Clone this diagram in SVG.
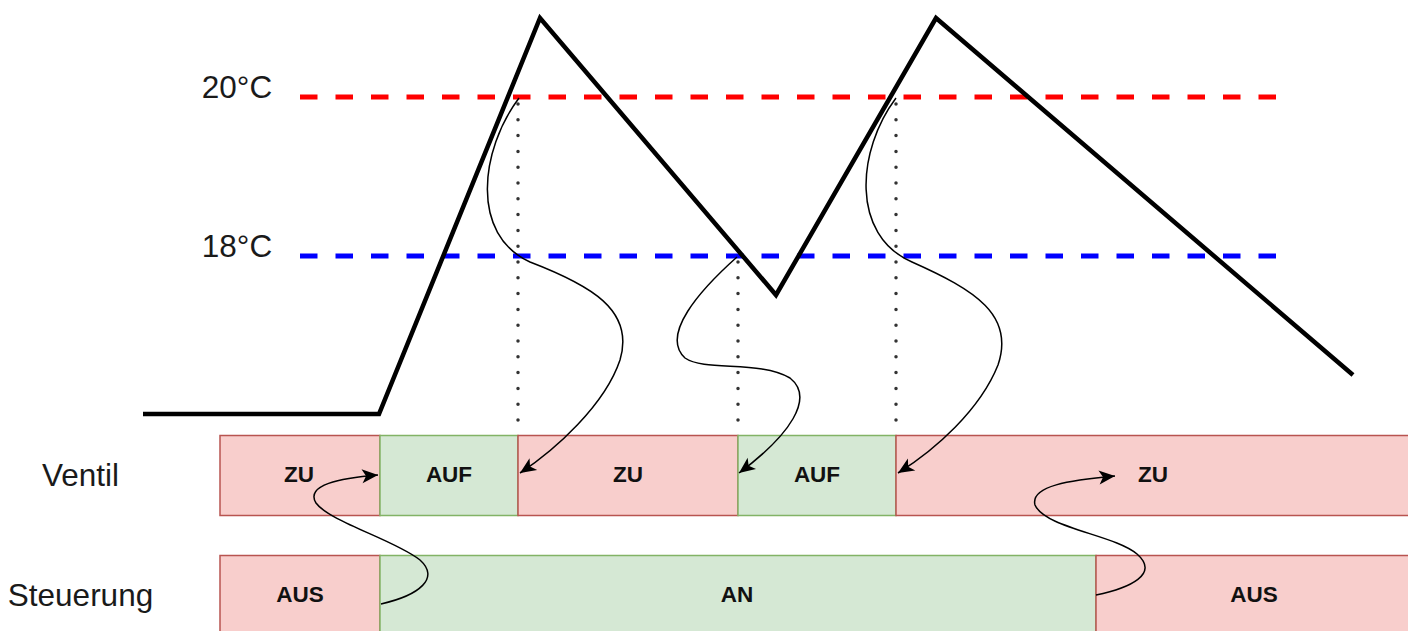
<svg xmlns="http://www.w3.org/2000/svg" width="1408" height="631" viewBox="0 0 1408 631">
<style>
.lbl{font-family:"Liberation Sans",Arial,sans-serif;font-size:31.5px;fill:#1a1a1a;text-anchor:middle}
.bl{font-family:"Liberation Sans",Arial,sans-serif;font-size:22.5px;font-weight:bold;fill:#111;text-anchor:middle}
.red{fill:#f8cecc;stroke:#b85450;stroke-width:1.5}
.grn{fill:#d5e8d4;stroke:#82b366;stroke-width:1.5}
.dot{stroke:#333;stroke-width:3.5;stroke-linecap:round;stroke-dasharray:0 15.8;fill:none}
.cur{fill:none;stroke:#000;stroke-width:1.5;marker-end:url(#ah)}
</style>
<defs>
<marker id="ah" markerUnits="userSpaceOnUse" markerWidth="20" markerHeight="20" viewBox="0 0 20 20" refX="18" refY="10" orient="auto">
<path d="M2,3 L18,10 L2,17 L6,10 Z" fill="#000"/>
</marker>
</defs>
<rect width="1408" height="631" fill="#fff"/>
<g id="labels">
<text class="lbl" x="80.5" y="486">Ventil</text>
<text class="lbl" x="80.5" y="606">Steuerung</text>
<text class="lbl" x="237" y="98">20°C</text>
<text class="lbl" x="237" y="257">18°C</text>
</g>
<g id="thresholds">
<line x1="300" y1="97" x2="1276" y2="97" stroke="#ff0000" stroke-width="5" stroke-dasharray="17.5 18"/>
<line x1="300" y1="256" x2="1276" y2="256" stroke="#0000ff" stroke-width="5" stroke-dasharray="17.5 18"/>
</g>
<g id="temperature">
<polyline points="143,414 379,414 540,18 776,295 936,18 1353,375" fill="none" stroke="#000" stroke-width="4.5" stroke-linejoin="miter"/>
</g>
<g id="ventil">
<g id="v-zu1"><rect class="red" x="220" y="435.5" width="160" height="80"/><text class="bl" x="299" y="482">ZU</text></g>
<g id="v-auf1"><rect class="grn" x="380" y="435.5" width="138" height="80"/><text class="bl" x="449" y="482">AUF</text></g>
<g id="v-zu2"><rect class="red" x="518" y="435.5" width="220" height="80"/><text class="bl" x="628" y="482">ZU</text></g>
<g id="v-auf2"><rect class="grn" x="738" y="435.5" width="158" height="80"/><text class="bl" x="817" y="482">AUF</text></g>
<g id="v-zu3"><rect class="red" x="896" y="435.5" width="520" height="80"/><text class="bl" x="1153" y="482">ZU</text></g>
</g>
<g id="steuerung">
<g id="s-aus1"><rect class="red" x="220" y="555.5" width="160" height="80"/><text class="bl" x="300" y="602">AUS</text></g>
<g id="s-an"><rect class="grn" x="380" y="555.5" width="716" height="80"/><text class="bl" x="737" y="602">AN</text></g>
<g id="s-aus2"><rect class="red" x="1096" y="555.5" width="320" height="80"/><text class="bl" x="1254" y="602">AUS</text></g>
</g>
<g id="connectors">
<line class="dot" x1="518" y1="104" x2="518" y2="435"/>
<line class="dot" x1="738" y1="262" x2="738" y2="435"/>
<line class="dot" x1="896" y1="104" x2="896" y2="435"/>
<path class="cur" d="M519 98 C480 150,470 235,530 262 C590 285,635 310,620 360 C605 405,555 450,520 473"/>
<path class="cur" d="M737 257 C700 290,660 335,685 358 C705 372,760 360,790 378 C815 398,790 435,739 473"/>
<path class="cur" d="M896 98 C857 150,850 235,912 262 C975 290,1015 315,998 365 C980 410,935 450,898 473"/>
<path class="cur" d="M381 604 C420 595,440 578,420 560 C395 540,330 522,316 503 C305 485,340 478,378 475"/>
<path class="cur" d="M1096 595 C1130 588,1160 574,1137 554 C1115 535,1045 528,1035 505 C1030 486,1070 480,1115 476"/>
</g>
</svg>
